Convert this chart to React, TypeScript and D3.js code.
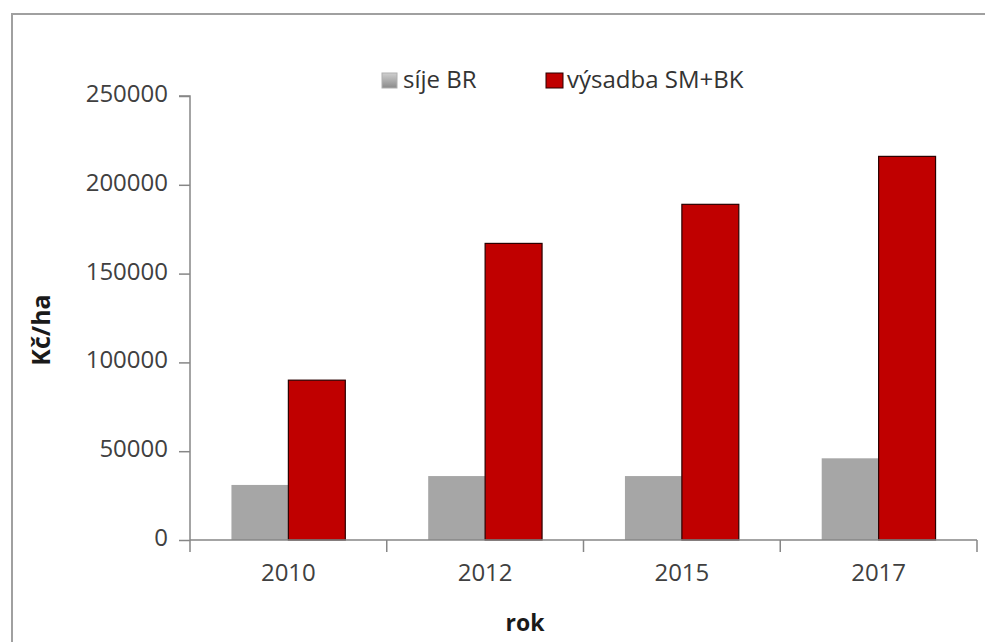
import { useEffect, useRef } from 'react';
import * as d3 from 'd3';

const years = ['2010', '2012', '2015', '2017'];
const seriesNames = ['síje BR', 'výsadba SM+BK'];
const sijeBR = [31000, 36000, 36000, 46000];
const vysadba = [90000, 167000, 189000, 216000];
const yTicks = [0, 50000, 100000, 150000, 200000, 250000];

const W = 985;
const H = 642;
const FONT = '"Open Sans", sans-serif';

const App = () => {
	const svgRef = useRef<SVGSVGElement>(null);

	useEffect(() => {
		const svg = d3.select(svgRef.current);
		svg.selectAll('*').remove();

		const left = 190;
		const right = 977;
		const top = 96;
		const bottom = 540;

		const x = d3.scaleBand().domain(years).range([left, right]).padding(0);
		const xs = d3
			.scaleBand()
			.domain(seriesNames)
			.range([0, x.bandwidth()])
			.paddingInner(0)
			.paddingOuter(0.728);
		const y = d3.scaleLinear().domain([0, 250000]).range([bottom, top]);

		const defs = svg.append('defs');
		const grad = defs
			.append('linearGradient')
			.attr('id', 'grayGrad')
			.attr('x1', 0)
			.attr('y1', 0)
			.attr('x2', 0)
			.attr('y2', 1);
		grad.append('stop').attr('offset', '0%').attr('stop-color', '#d0d0d0');
		grad.append('stop').attr('offset', '100%').attr('stop-color', '#8a8a8a');

		// chart frame
		svg
			.append('rect')
			.attr('x', 12)
			.attr('y', 14)
			.attr('width', W + 20)
			.attr('height', H + 20)
			.attr('fill', 'white')
			.attr('stroke', '#a0a0a0')
			.attr('stroke-width', 2);

		// bars
		const rows = years.map((yr, i) => ({ year: yr, values: [sijeBR[i], vysadba[i]] }));
		const g = svg
			.append('g')
			.selectAll('g')
			.data(rows)
			.join('g')
			.attr('transform', d => `translate(${x(d.year)},0)`);

		g.selectAll('rect')
			.data(d => d.values.map((v, k) => ({ name: seriesNames[k], value: v, k })))
			.join('rect')
			.attr('x', d => xs(d.name) as number)
			.attr('y', d => y(d.value))
			.attr('width', xs.bandwidth())
			.attr('height', d => bottom - y(d.value))
			.attr('fill', d => (d.k === 0 ? '#a6a6a6' : '#c00000'))
			.attr('stroke', d => (d.k === 0 ? 'none' : '#2a0000'))
			.attr('stroke-width', 1.2);

		// y axis
		const yAxis = svg
			.append('g')
			.attr('transform', `translate(${left},0)`)
			.call(d3.axisLeft(y).tickValues(yTicks).tickSize(11).tickFormat(() => ''));
		yAxis.selectAll('line, path').attr('stroke', '#868686').attr('stroke-width', 1.5);
		yAxis.select('.domain').attr('d', `M-11,${top}H0V${bottom}`);

		svg
			.append('g')
			.selectAll('text')
			.data(yTicks)
			.join('text')
			.attr('x', 168)
			.attr('y', d => y(d) + 6)
			.attr('text-anchor', 'end')
			.style('font-family', FONT)
			.style('font-size', '24px')
			.attr('fill', '#404040')
			.text(d => String(d));

		// x axis
		const xAxis = svg.append('g').attr('transform', `translate(0,${bottom})`);
		xAxis
			.append('path')
			.attr('d', `M${left},0H${right}`)
			.attr('stroke', '#868686')
			.attr('stroke-width', 1.5)
			.attr('fill', 'none');
		const bounds = years.map(d => x(d) as number).concat([right]);
		xAxis
			.selectAll('line')
			.data(bounds)
			.join('line')
			.attr('x1', d => d)
			.attr('x2', d => d)
			.attr('y1', 0)
			.attr('y2', 12)
			.attr('stroke', '#868686')
			.attr('stroke-width', 1.5);
		xAxis
			.selectAll('text')
			.data(years)
			.join('text')
			.attr('x', d => (x(d) as number) + x.bandwidth() / 2)
			.attr('y', 41)
			.attr('text-anchor', 'middle')
			.style('font-family', FONT)
			.style('font-size', '24px')
			.attr('fill', '#404040')
			.text(d => d);

		// axis titles
		svg
			.append('text')
			.attr('x', 525)
			.attr('y', 631)
			.attr('text-anchor', 'middle')
			.style('font-family', FONT)
			.style('font-size', '23px')
			.style('font-weight', 'bold')
			.attr('fill', '#1a1a1a')
			.text('rok');

		svg
			.append('text')
			.attr('transform', 'translate(50,330) rotate(-90)')
			.attr('text-anchor', 'middle')
			.style('font-family', FONT)
			.style('font-size', '25px')
			.style('font-weight', 'bold')
			.attr('fill', '#1a1a1a')
			.text('Kč/ha');

		// legend
		const legendX = [382, 546];
		const legend = svg
			.append('g')
			.selectAll('g')
			.data(seriesNames)
			.join('g')
			.attr('transform', (d, i) => `translate(${legendX[i]},73)`);
		legend
			.append('rect')
			.attr('width', (d, i) => (i === 0 ? 15 : 17))
			.attr('height', 15)
			.attr('fill', (d, i) => (i === 0 ? 'url(#grayGrad)' : '#c00000'))
			.attr('stroke', (d, i) => (i === 0 ? '#b0b0b0' : '#2a0000'))
			.attr('stroke-width', 1);
		legend
			.append('text')
			.attr('x', 21)
			.attr('y', 15)
			.style('font-family', FONT)
			.style('font-size', '24px')
			.attr('fill', '#333')
			.text(d => d);
	}, []);

	return (
		<svg
			ref={svgRef}
			width={W}
			height={H}
			style={{ position: 'absolute', left: 0, top: 0, background: 'white' }}
		></svg>
	);
};

export default App;
